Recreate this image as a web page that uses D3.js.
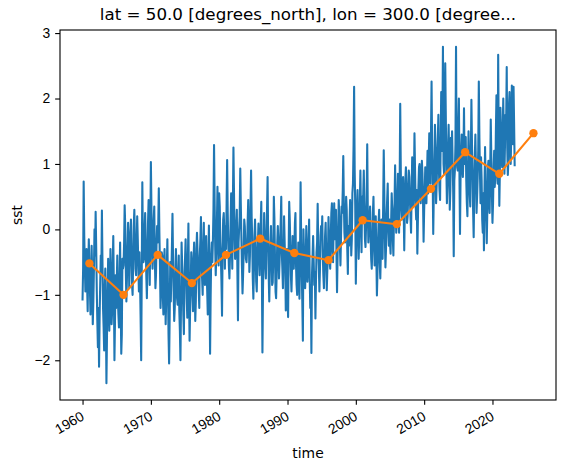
<!DOCTYPE html>
<html>
<head>
<meta charset="utf-8">
<script src="https://cdn.jsdelivr.net/npm/d3@7/dist/d3.min.js"></script>
<style>
  html, body { margin: 0; padding: 0; background: #fff; }
  svg { display: block; font-family: "DejaVu Sans", sans-serif; }
</style>
</head>
<body>
<svg id="chart" width="565" height="469"></svg>
<script>
// ---------- DATA ----------
const titleText = "lat = 50.0 [degrees_north], lon = 300.0 [degree...";
const xLabel = "time";
const yLabel = "sst";
const startYear = 1960;
// monthly SST anomaly, one row per year (1960 ... 2023)
const sstByYear = [
  [-1.07, -0.60, 0.73, -0.10, -0.55, -0.95, -0.70, -0.30, -0.85, -1.25, -0.60, -0.15],
  [-0.55, -0.95, -1.30, -0.85, -0.25, -0.70, -1.45, -1.10, -0.60, 0.00, -0.40, 0.27],
  [-0.30, -0.95, -1.40, -1.80, -1.20, -2.10, -1.35, -0.85, -0.40, -0.70, 0.29, -0.50],
  [-1.20, -1.50, -1.85, -0.90, -0.60, -1.30, -2.35, -1.60, -1.00, -0.45, -0.85, -1.55],
  [-1.10, -0.30, -0.80, -1.45, -1.25, -0.55, -0.10, -0.90, -2.00, -1.40, -0.70, -1.20],
  [-0.85, -0.40, -1.05, -1.30, -1.50, -0.75, -0.20, -1.10, -1.90, -1.60, -0.45, -0.60],
  [-0.55, -0.20, 0.37, 0.05, -0.60, -1.10, -0.75, -0.30, 0.10, -0.15, -0.90, -0.35],
  [-0.10, 0.15, -0.40, -0.85, -1.00, -0.45, 0.05, 0.30, -0.20, -0.60, -0.70, -0.25],
  [0.20, -0.15, -0.55, -0.95, -0.35, -0.80, -1.35, -2.00, -0.65, 0.72, -0.25, -0.50],
  [-0.45, 0.00, 0.25, -0.20, -0.70, -1.05, -0.55, 0.10, 0.45, -0.30, -0.85, -0.10],
  [1.03, 0.30, -0.35, -0.60, -0.25, 0.15, 0.35, -0.45, -0.90, -0.70, -0.20, 0.05],
  [-0.20, 0.10, 0.63, -0.05, -0.55, -1.20, -0.90, -0.35, -0.40, -1.00, -1.30, -0.60],
  [-0.30, -0.75, -1.45, -1.05, -0.60, -0.15, -0.85, -1.60, -2.05, -1.35, -0.50, -1.10],
  [-0.65, -0.25, 0.24, -0.45, -0.95, -1.40, -1.20, -0.70, -0.30, -0.60, -1.05, -1.15],
  [-0.90, -0.40, -1.25, -1.55, -2.00, -1.10, -0.20, -0.55, -0.85, -1.30, -1.60, -0.75],
  [-0.45, -0.15, -0.60, -1.05, -1.35, -0.50, 0.09, -0.95, -1.70, -1.20, -0.85, -0.35],
  [-0.60, -0.95, -1.25, -0.45, -0.20, -0.80, -1.40, -1.10, -0.30, -0.05, -0.35, -0.70],
  [-0.90, -1.20, -0.40, -0.15, 0.19, -0.55, -0.75, -1.00, -0.25, 0.10, -0.65, -0.85],
  [-0.35, -0.10, -0.60, -0.95, -1.30, -0.45, 0.06, -0.80, -1.90, -1.05, -0.40, -0.20],
  [-0.50, -0.15, 0.30, 1.29, 0.45, -0.25, -0.70, -0.35, 0.10, 0.65, -0.10, -0.55],
  [0.55, 0.35, -0.20, -0.45, -0.80, -1.32, -0.30, 0.15, 0.25, -0.05, -0.60, 0.05],
  [-0.30, 0.40, 1.06, 0.25, -0.20, -0.55, -0.75, -0.40, 0.10, 0.55, -0.15, -0.60],
  [0.35, 1.25, 0.60, -0.10, -0.45, -0.30, 0.05, 0.30, -0.65, -1.39, -0.20, 0.00],
  [0.20, 0.93, 0.40, -0.10, -0.55, -0.98, -0.70, -0.35, 0.15, 0.05, -0.25, -0.45],
  [-0.50, -0.30, 0.10, 0.45, -0.05, -0.65, -0.40, 0.30, 0.90, 0.20, -0.15, -0.75],
  [-1.06, -0.60, -0.10, 0.15, -0.25, -0.80, -0.95, -0.45, -0.20, 0.09, -0.40, -0.70],
  [-0.30, 0.10, 0.42, -0.65, -1.88, -0.90, -0.40, 0.25, -0.20, -0.55, -0.75, -0.15],
  [0.30, 0.80, -0.10, -0.70, -1.10, -0.60, -0.25, 0.05, -0.35, -0.85, -0.81, -0.45],
  [0.50, 0.15, -0.40, -0.95, -1.05, -0.65, -0.20, 0.05, -0.30, -0.75, -0.50, -0.15],
  [0.10, 0.50, -0.35, -0.60, -0.90, -0.45, 0.20, -0.20, -0.55, -1.24, -0.80, -0.30],
  [-1.00, -1.34, -0.40, 0.42, 0.15, -0.25, -0.70, -0.95, -0.55, -0.10, -0.20, -0.60],
  [-0.30, 0.10, 0.25, -0.55, -0.85, -1.00, -0.70, -0.20, -0.45, -1.06, -0.40, 0.72],
  [-0.15, -0.65, -1.10, -1.70, 0.00, -0.35, -0.60, -0.90, -0.45, 0.05, -0.25, -0.80],
  [-0.55, -0.30, 0.15, -0.75, -1.20, -0.95, -1.89, -0.70, -0.40, -0.10, -0.50, -0.85],
  [-0.65, -1.36, -0.80, -0.35, -0.20, 0.39, -0.25, -0.55, -0.95, -0.60, -0.10, 0.05],
  [-0.15, 0.20, -0.40, -0.70, -0.90, -0.55, -0.10, 0.10, -0.35, -0.93, -0.60, -0.45],
  [0.19, -0.20, -0.45, -0.60, -0.10, 0.25, 0.40, -0.30, -0.50, 0.05, 0.40, -0.15],
  [0.10, 0.30, -0.35, -0.96, -0.40, 0.00, 0.45, 0.20, -0.25, -0.55, -0.10, 0.35],
  [0.25, 0.60, 1.12, 0.40, -0.05, -0.20, 0.15, 0.50, 0.30, -0.30, -0.68, 0.05],
  [-0.25, 0.10, 0.45, 0.20, -0.40, -0.15, 0.55, 0.70, 1.26, 2.18, 0.90, 0.35],
  [-0.83, -0.20, 0.30, 0.60, 0.05, -0.45, -0.10, 0.40, 0.90, 0.25, -0.35, 0.50],
  [0.20, 0.55, 0.90, 0.40, -0.15, -0.27, 0.05, 0.45, 1.30, 0.30, -0.20, 0.10],
  [0.15, 0.35, -0.10, -0.45, -0.60, -0.30, 0.25, 0.50, -0.05, -0.55, -0.25, 0.20],
  [-0.40, -1.01, -0.68, -0.20, 0.10, 0.30, -0.50, -0.75, -0.35, 0.15, 0.05, -0.45],
  [0.35, 1.21, 0.60, -0.10, -0.58, -0.30, 0.20, 0.45, 0.70, 0.00, -0.25, 0.15],
  [-0.20, -0.37, 0.10, 0.55, 0.30, -0.15, -0.40, 0.20, 0.40, 0.98, 0.35, -0.05],
  [0.10, 0.50, 0.85, 0.40, -0.05, 0.70, 1.92, 0.90, 0.30, 0.15, 0.60, 0.80],
  [0.35, -0.32, 0.25, 0.75, 0.95, 0.65, 0.10, 0.20, 0.50, 0.90, 0.80, 0.45],
  [0.20, -0.05, 0.55, 1.10, 0.80, 0.35, 0.70, 1.47, 0.90, 0.40, 0.15, 0.60],
  [-0.37, 0.15, 0.65, 0.95, 1.00, 0.55, 0.40, 0.70, 1.05, 0.85, 0.45, -0.19],
  [0.30, 0.60, 0.95, 0.45, 0.40, 0.80, 1.20, 0.55, 1.05, 1.47, 1.30, 0.70],
  [1.47, 2.26, 1.30, 0.80, -0.07, 0.55, 0.95, 1.60, 1.20, 0.40, 0.70, 1.05],
  [1.40, 1.75, 0.90, 0.60, 0.45, 1.35, 2.10, 1.20, 1.55, 2.79, 1.00, 0.85],
  [1.47, 2.54, 1.80, 0.95, 0.40, 0.70, 1.25, 1.60, 1.10, 0.30, 0.60, 1.40],
  [1.15, 1.50, 1.05, 0.60, -0.41, 0.75, 0.90, 1.30, 2.79, 1.10, 0.95, 0.90],
  [1.60, 2.00, 0.90, -0.07, 0.80, 1.20, 1.45, 0.95, 0.80, 1.10, 1.85, 1.00],
  [1.20, 1.41, 0.75, 0.40, 0.20, 0.90, 1.50, 1.05, 0.55, 0.35, 1.15, 1.98],
  [1.30, 0.85, 0.30, -0.12, 0.60, 1.10, 1.45, 0.95, 0.25, 0.50, 0.80, 1.20],
  [2.26, 1.40, 0.90, 0.40, 1.10, 0.75, 0.15, -0.05, 0.55, -0.32, 0.60, 1.26],
  [0.70, 0.20, -0.21, 0.30, 0.95, 1.05, 0.45, 0.25, 0.85, 1.68, 1.10, 0.55],
  [0.10, 0.40, 0.90, 1.20, 0.65, 0.80, 1.50, 2.05, 1.00, 0.70, 2.67, 1.35],
  [0.36, 0.90, 1.86, 1.40, 1.10, 0.95, 1.55, 2.00, 1.20, 0.85, 1.30, 1.75],
  [1.60, 2.48, 1.25, 0.83, 1.05, 1.90, 2.10, 1.35, 1.00, 1.45, 2.20, 1.70],
  [1.30, 2.18, 1.65, 0.98]
];
// 5-year means (labelled at year end)
const meanYears = [1960, 1965, 1970, 1975, 1980, 1985, 1990, 1995, 2000, 2005, 2010, 2015, 2020, 2025];
const meanValues = [-0.52, -1.00, -0.39, -0.82, -0.39, -0.14, -0.36, -0.47, 0.14, 0.08, 0.62, 1.18, 0.85, 1.47];
const xTickYears = [1960, 1970, 1980, 1990, 2000, 2010, 2020];
const yTickValues = [-2, -1, 0, 1, 2, 3];

// ---------- BUILD ----------
const monthly = [];
sstByYear.forEach((row, i) => row.forEach((v, m) => monthly.push({ date: new Date(startYear + i, m, 1), value: v })));
const means = meanYears.map((y, i) => ({ date: new Date(y, 11, 31), value: meanValues[i] }));

const svg = d3.select("#chart");
const margin = { left: 60, top: 30 };
const w = 496, h = 370;
const g = svg.append("g").attr("transform", `translate(${margin.left},${margin.top})`);

const allDates = monthly.map(d => d.date).concat(means.map(d => d.date));
const allVals = monthly.map(d => d.value).concat(means.map(d => d.value));
const [x0, x1] = d3.extent(allDates).map(d => +d);
const xp = (x1 - x0) * 0.05;
const [y0, y1] = d3.extent(allVals);
const yp = (y1 - y0) * 0.05;

const x = d3.scaleTime().domain([new Date(x0 - xp), new Date(x1 + xp)]).range([0, w]);
const y = d3.scaleLinear().domain([y0 - yp, y1 + yp]).range([h, 0]);

const line = d3.line().x(d => x(d.date)).y(d => y(d.value));

g.append("path").datum(monthly)
  .attr("d", line).attr("fill", "none")
  .attr("stroke", "#1f77b4").attr("stroke-width", 2.08)
  .attr("stroke-linejoin", "round").attr("stroke-linecap", "square");

g.append("path").datum(means)
  .attr("d", line).attr("fill", "none")
  .attr("stroke", "#ff7f0e").attr("stroke-width", 2.08)
  .attr("stroke-linejoin", "round");

g.selectAll("circle.m").data(means).enter().append("circle")
  .attr("cx", d => x(d.date)).attr("cy", d => y(d.value))
  .attr("r", 4.17).attr("fill", "#ff7f0e");

// axes
const xAxis = d3.axisBottom(x).tickValues(xTickYears.map(yy => new Date(yy, 0, 1)))
  .tickFormat(d3.timeFormat("%Y")).tickSize(4.86).tickPadding(4.86);
const xg = g.append("g").attr("transform", `translate(0,${h})`).call(xAxis);
xg.select(".domain").remove();
xg.selectAll(".tick line").attr("stroke", "#000").attr("stroke-width", 1.11);
xg.selectAll(".tick text")
  .attr("font-size", "13.9px").attr("fill", "#000")
  .attr("text-anchor", "end")
  .attr("dy", null).attr("y", null)
  .attr("transform", "translate(-3,10) rotate(-30)")
  .attr("dominant-baseline", "hanging");

const yAxis = d3.axisLeft(y).tickValues(yTickValues).tickFormat(d3.format("d"))
  .tickSize(4.86).tickPadding(4.86);
const yg = g.append("g").call(yAxis);
yg.select(".domain").remove();
yg.selectAll(".tick line").attr("stroke", "#000").attr("stroke-width", 1.11);
yg.selectAll(".tick text").attr("font-size", "13.9px").attr("fill", "#000")
  .text(d => d < 0 ? "\u2212" + Math.abs(d) : d);

// frame
g.append("rect").attr("x", 0).attr("y", 0).attr("width", w).attr("height", h)
  .attr("fill", "none").attr("stroke", "#000").attr("stroke-width", 1.11);

// labels
svg.append("text").attr("x", margin.left + w / 2).attr("y", 20)
  .attr("text-anchor", "middle").attr("font-size", "16.7px").attr("fill", "#000")
  .text(titleText);
svg.append("text").attr("x", margin.left + w / 2).attr("y", 458)
  .attr("text-anchor", "middle").attr("font-size", "13.9px").attr("fill", "#000")
  .text(xLabel);
svg.append("text").attr("transform", `translate(22,${margin.top + h / 2}) rotate(-90)`)
  .attr("text-anchor", "middle").attr("font-size", "13.9px").attr("fill", "#000")
  .text(yLabel);
</script>
</body>
</html>
